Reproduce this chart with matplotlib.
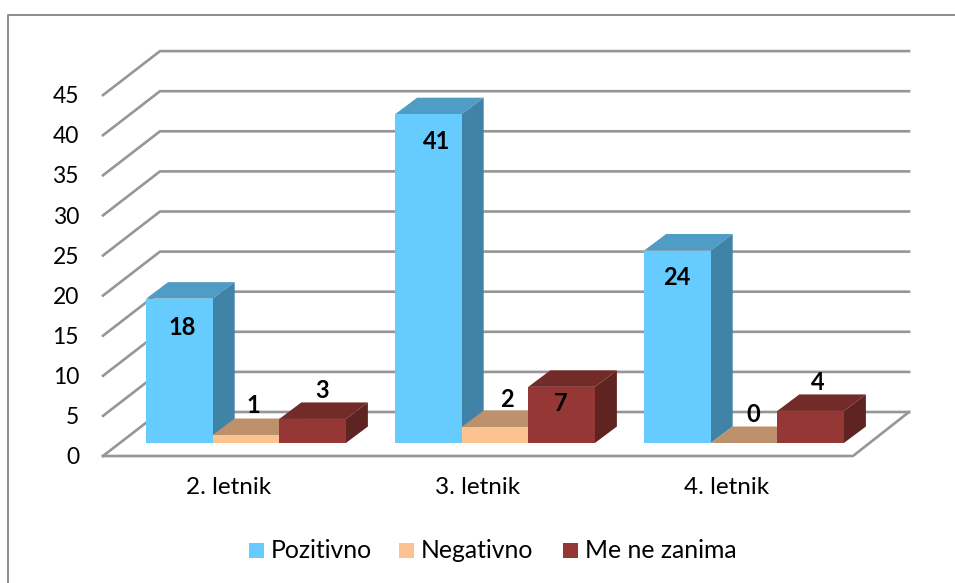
#!/usr/bin/env python
# 3D looking clustered bars, drawn on one flat axes
import numpy as np
import matplotlib
matplotlib.use('Agg')
import matplotlib.pyplot as plt
from matplotlib.patches import Rectangle

categories = ['2. letnik', '3. letnik', '4. letnik']
series_names = ['Pozitivno', 'Negativno', 'Me ne zanima']
pozitivno = [18, 41, 24]
negativno = [1, 2, 0]
me_ne_zanima = [3, 7, 4]
y_ticks = [0, 5, 10, 15, 20, 25, 30, 35, 40, 45]

front_colors = ['#66CCFF', '#FCC28F', '#953735']
top_colors = ['#4F9CC4', '#BC916C', '#722B29']
side_colors = ['#4183A6', '#A67F5F', '#5F2422']
grid_color = '#969696'

W, H = 955, 583
plt.rcParams['font.family'] = ['Lato', 'DejaVu Sans']

fig = plt.figure(figsize=(W / 100, H / 100), dpi=100)
ax = fig.add_axes([0, 0, 1, 1])

# one category = 249 px, one value unit = 8.02 px
px_x = 249.0
px_y = 8.02
ax.set_xlim(-246 / px_x, (W - 246) / px_x)
ax.set_ylim(-(H - 443) / px_y, 443 / px_y)
ax.axis('off')

# depth of the bars and of the floor, in data units
bar_dx, bar_dy = 22 / px_x, 16.5 / px_y
floor_dx, floor_dy = 57 / px_x, 44 / px_y
floor_x0, floor_x1 = -143 / px_x, 607 / px_x
floor_end = 663 / px_x
floor_y0 = -13 / px_y

# walls and floor
for t in y_ticks:
    xs = [floor_x0, floor_x0 + floor_dx, floor_end]
    ys = [floor_y0 + t, floor_y0 + floor_dy + t, floor_y0 + floor_dy + t]
    ax.plot(xs, ys, color=grid_color, lw=1.9, solid_joinstyle='miter', zorder=1)
    ax.text(floor_x0 - 24 / px_x, floor_y0 + t - 0.2, str(t), ha='right', va='center',
            fontsize=16.5, color='black', zorder=6)
ax.plot([floor_x0, floor_x1, floor_end],
        [floor_y0, floor_y0, floor_y0 + floor_dy], color=grid_color, lw=1.9, zorder=1)

# bars
bar_w = 66.6 / px_x
values = np.array([pozitivno, negativno, me_ne_zanima])
offsets = [-bar_w, 0, bar_w]
for s in range(3):
    for c, v in enumerate(values[s]):
        x0 = c + offsets[s] - bar_w / 2
        x1 = x0 + bar_w
        z = 3 + s * 0.1
        ax.fill([x0, x1, x1 + bar_dx, x0 + bar_dx], [v, v, v + bar_dy, v + bar_dy],
                color=top_colors[s], lw=0, zorder=z)
        ax.fill([x1, x1 + bar_dx, x1 + bar_dx, x1], [0, bar_dy, v + bar_dy, v],
                color=side_colors[s], lw=0, zorder=z)
        ax.bar(x0, v, width=bar_w, align='edge', color=front_colors[s], lw=0, zorder=z + 0.05)

# value labels, nudged in px from the front top centre of each bar
label_dx = [[3, 8, -1], [7, 12, 9], [9, -1, 7]]
label_dy = [[-29, -27, -27], [29, 27, 29], [28, -17, 28]]
for s in range(3):
    for c, v in enumerate(values[s]):
        x = c + offsets[s] + label_dx[s][c] / px_x
        y = v + label_dy[s][c] / px_y
        ax.text(x, y, str(v), ha='center', va='center', fontsize=17,
                fontweight='bold', zorder=7)

# category labels
for c, name in enumerate(categories):
    ax.text(c - 17.5 / px_x, -44.5 / px_y, name, ha='center', va='center', fontsize=17.5)

# legend
legend_x = [249, 399, 563]
for s, name in enumerate(series_names):
    lx = (legend_x[s] - 246) / px_x
    ax.add_patch(Rectangle((lx, (443 - 558) / px_y), 15 / px_x, 15 / px_y,
                           color=front_colors[s], lw=0))
    ax.text(lx + 22 / px_x, (443 - 550) / px_y, name, ha='left', va='center', fontsize=17.8)

# outer frame, open on the right
fx0, fx1 = (7.5 - 246) / px_x, (W - 246) / px_x
fy_top = (443 - 15) / px_y
fy_bot = (443 - H) / px_y
ax.plot([fx0, fx0, fx1], [fy_bot, fy_top, fy_top], color='#8C8C8C', lw=1.4, zorder=0)

fig.savefig('out.png', dpi=100)
